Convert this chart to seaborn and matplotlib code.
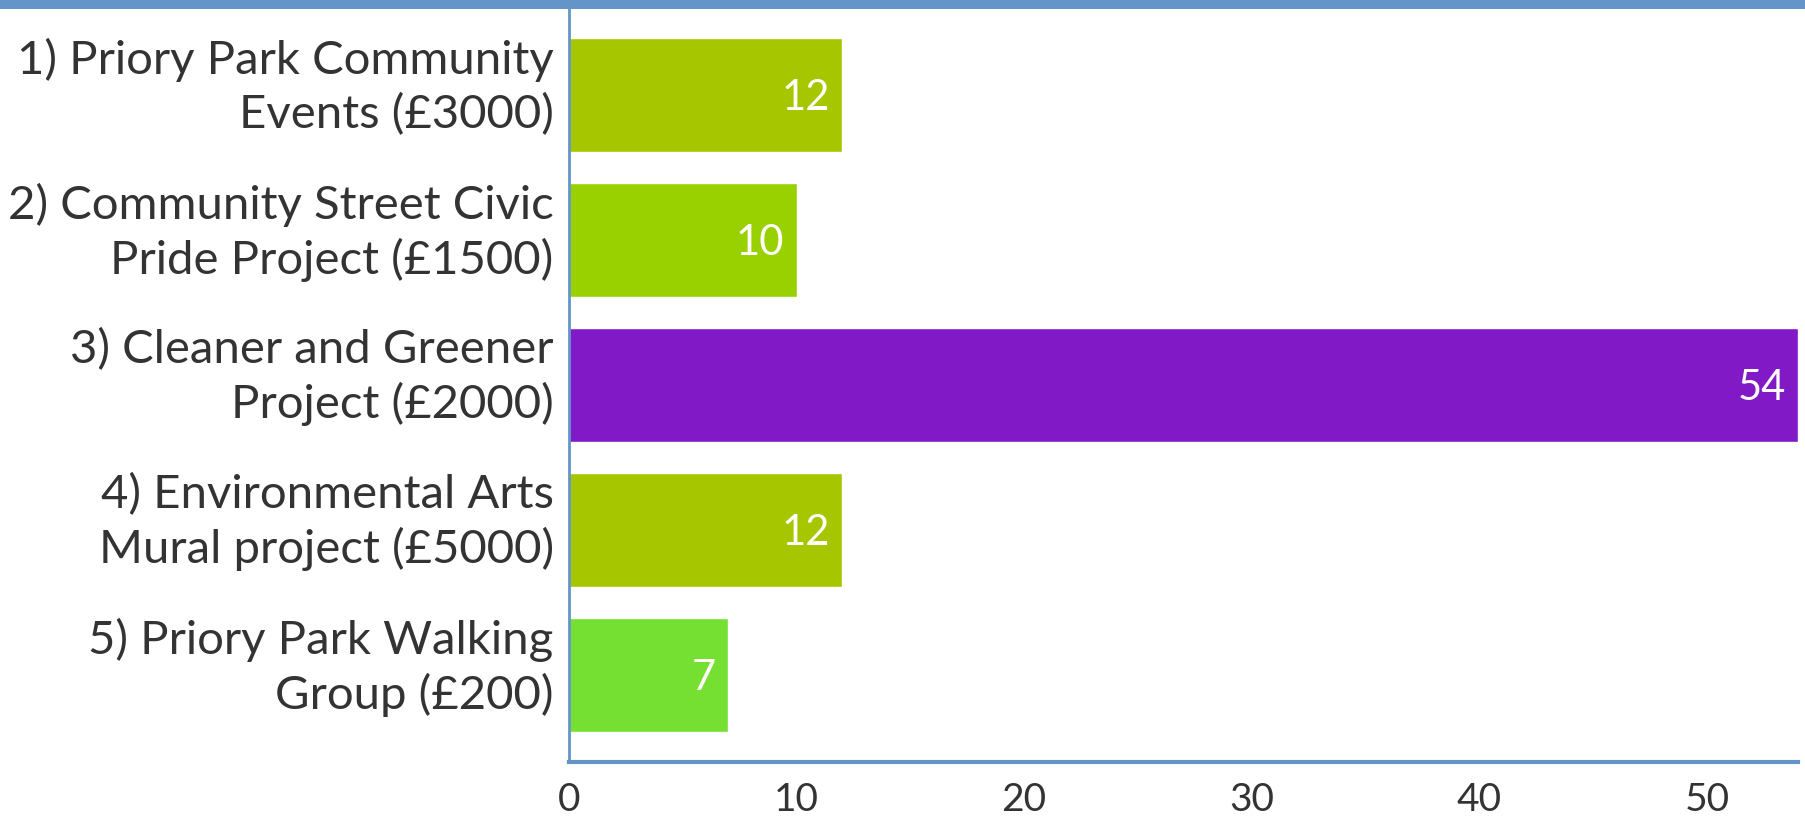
import matplotlib
matplotlib.use('Agg')
import matplotlib.pyplot as plt
import matplotlib.transforms as mtrans
import seaborn as sns
import pandas as pd

# Chart data
categories = [
    '1) Priory Park Community\nEvents (£3000)',
    '2) Community Street Civic\nPride Project (£1500)',
    '3) Cleaner and Greener\nProject (£2000)',
    '4) Environmental Arts\nMural project (£5000)',
    '5) Priory Park Walking\nGroup (£200)',
]
votes = [12, 10, 54, 12, 7]
bar_colors = ['#a6c700', '#99d100', '#8219c6', '#a6c700', '#76e032']
x_ticks = [0, 10, 20, 30, 40, 50]

df = pd.DataFrame({'project': categories, 'votes': votes})

sns.set_style('white')
plt.rcParams['font.family'] = ['Lato', 'DejaVu Sans']

axis_blue = '#6495c8'
text_col = '#333333'

fig = plt.figure(figsize=(18.05, 8.16), dpi=100)
ax = fig.add_axes([0.3152, 0.0662, 0.9961 - 0.3152, 0.9939 - 0.0662])

sns.barplot(data=df, x='votes', y='project', hue='project',
            palette=bar_colors, orient='h', width=0.79,
            saturation=1, legend=False, ax=ax)

# value labels inside bar ends
for i, v in enumerate(votes):
    ax.annotate(str(v), (v, i), xytext=(-9, -2), textcoords='offset points',
                ha='right', va='center', color='white', fontsize=30)

ax.set_xlim(0, 54)
ax.set_ylim(4.6, -0.62)
ax.set_xticks(x_ticks)
ax.set_xlabel('')
ax.set_ylabel('')

ax.spines['right'].set_visible(False)
ax.spines['top'].set_visible(False)
ax.spines['left'].set_color(axis_blue)
ax.spines['left'].set_linewidth(2)
ax.spines['bottom'].set_color(axis_blue)
ax.spines['bottom'].set_linewidth(3)

# blue band across the top of the figure
fig.add_artist(plt.Rectangle((0, 1 - 9 / 816), 1, 9 / 816,
                             transform=fig.transFigure, color=axis_blue, lw=0))

ax.tick_params(axis='x', colors=axis_blue, direction='out', length=5, width=2,
               labelcolor=text_col, labelsize=28, pad=9.5)
ax.tick_params(axis='y', length=0, labelcolor=text_col, labelsize=34, pad=11)
shift_up = mtrans.ScaledTranslation(0, 12.3 / 72, fig.dpi_scale_trans)
for lbl in ax.get_yticklabels():
    lbl.set_horizontalalignment('right')
    lbl.set_linespacing(1.3)
    lbl.set_transform(lbl.get_transform() + shift_up)

plt.savefig('out.png', dpi=100)
